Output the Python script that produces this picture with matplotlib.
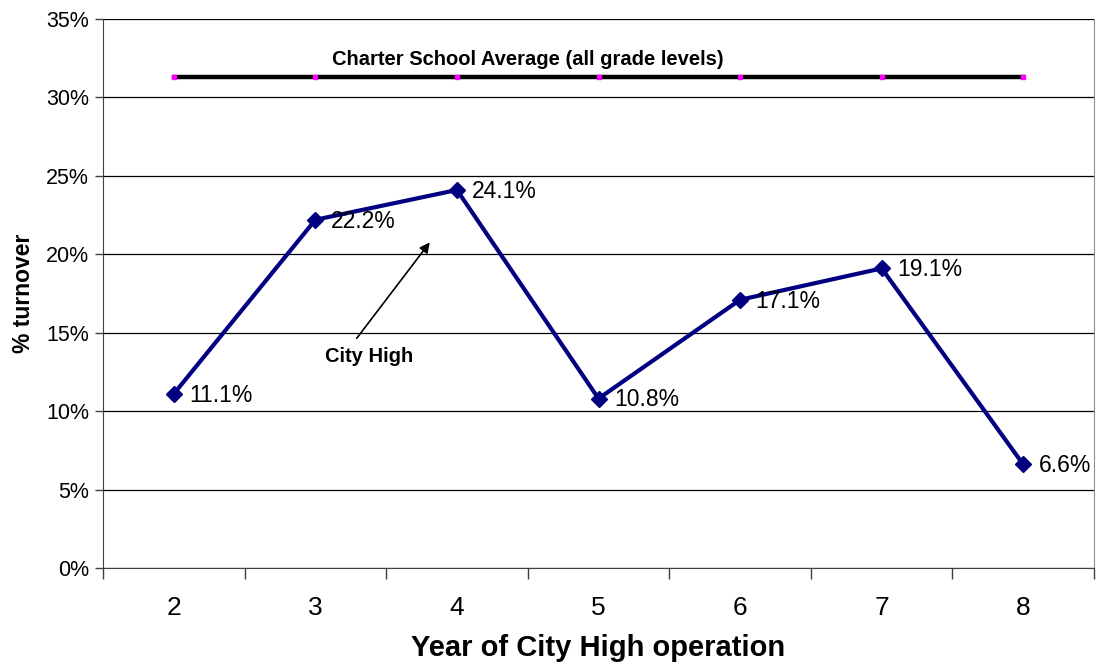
import matplotlib
matplotlib.use("Agg")
import matplotlib.pyplot as plt
import numpy as np

plt.rcParams['font.family'] = ['Liberation Sans', 'DejaVu Sans']

years = ["2", "3", "4", "5", "6", "7", "8"]
city_high = [11.1, 22.2, 24.1, 10.8, 17.1, 19.1, 6.6]
charter_avg = [31.3] * 7

fig = plt.figure(figsize=(10.98, 6.62), dpi=100)
ax = fig.add_axes([0.0938, 0.142, 0.9026, 0.8293])

x = np.arange(len(years))

ax.plot(x, charter_avg, color="black", lw=3.2, zorder=3)
ax.plot(x, charter_avg, ls="none", marker="s", ms=3, color="#ff00ff", zorder=4)
ax.plot(x, city_high, color="#000080", lw=3, marker="D", ms=8, zorder=5)

for xi, v in zip(x, city_high):
    ax.annotate(f"{v:.1f}%", (xi, v), xytext=(11, -1), textcoords="offset points",
                va="center", ha="left", fontsize=16.5, zorder=6)

ax.text(2.5, 32.4, "Charter School Average (all grade levels)", ha="center",
        va="center", fontsize=14.5, fontweight="bold")

ax.annotate("", xy=(1.82, 20.9), xytext=(1.28, 14.5),
            arrowprops=dict(arrowstyle="-|>", color="black", lw=1.2, mutation_scale=15))
ax.text(1.38, 13.5, "City High", ha="center", va="center", fontsize=14.5, fontweight="bold")

ax.set_xlim(-0.5, 6.5)
ax.set_ylim(0, 35)
ax.set_yticks(np.arange(0, 36, 5))
ax.set_yticklabels([f"{t}%" for t in range(0, 36, 5)], fontsize=15.5)
ax.set_xticks(x)
ax.set_xticklabels(years, fontsize=19)
ax.set_xticks(np.arange(-0.5, 7, 1), minor=True)
ax.tick_params(axis="x", which="major", length=0, pad=20)
ax.tick_params(axis="x", which="minor", length=8, width=1, color="#404040", direction="out")
ax.tick_params(axis="y", length=6, width=1, color="#404040", direction="out", pad=4)

ax.yaxis.grid(True, color="black", lw=0.9)
ax.set_axisbelow(True)
ax.spines["top"].set_visible(False)
ax.spines["right"].set_color("#909090")
ax.spines["left"].set_color("#404040")
ax.spines["bottom"].set_color("#404040")

ax.set_xlabel("Year of City High operation", fontsize=21, fontweight="bold", labelpad=10)
ax.set_ylabel("% turnover", fontsize=16.5, fontweight="bold", labelpad=8)

fig.savefig("out.png", dpi=100)
